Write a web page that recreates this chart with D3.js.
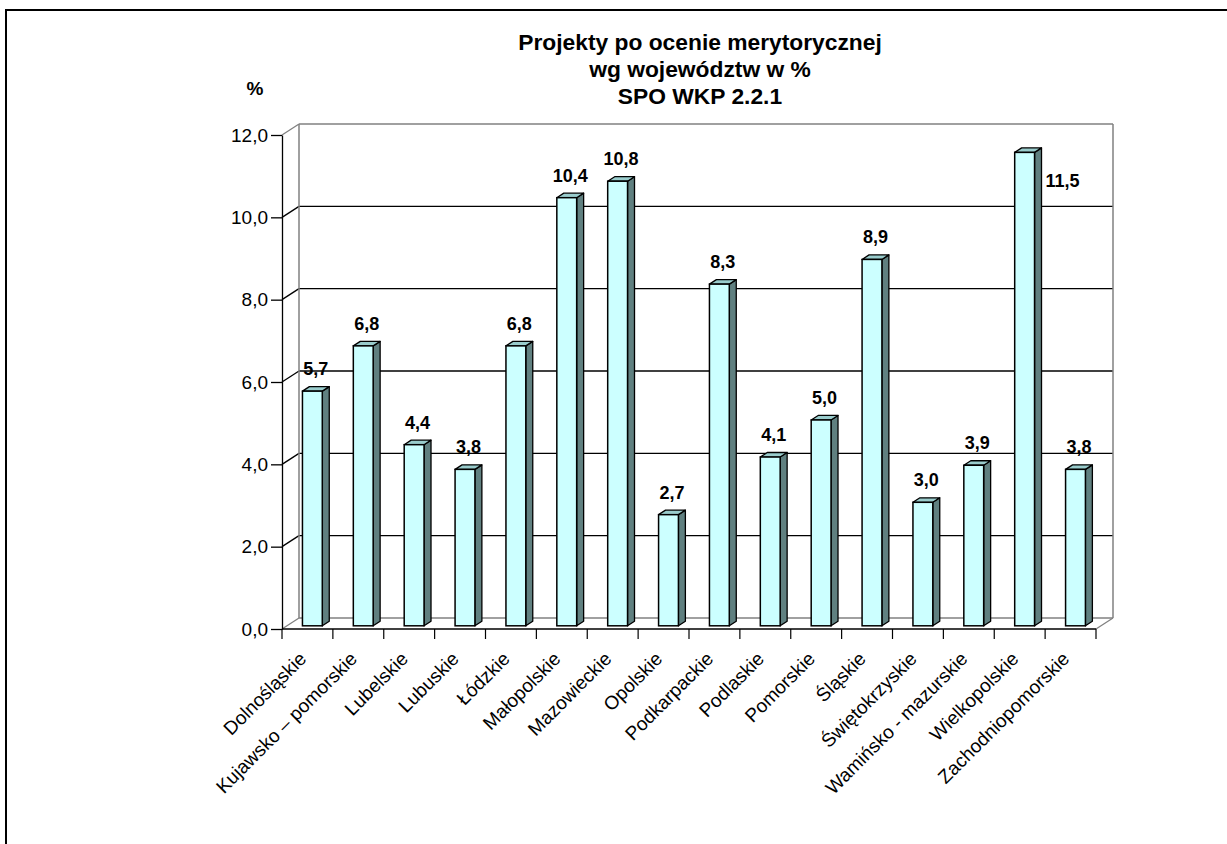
<!DOCTYPE html>
<html>
<head>
<meta charset="utf-8">
<script src="https://cdn.jsdelivr.net/npm/d3@7"></script>
<style>
  body { margin: 0; background: #fff; }
  text { font-family: "Liberation Sans", Arial, sans-serif; }
</style>
</head>
<body>
<svg id="chart" width="1227" height="844"></svg>
<script>
// Kategorie (województwa)
const categories = [
  "Dolnośląskie",
  "Kujawsko – pomorskie",
  "Lubelskie",
  "Lubuskie",
  "Łódzkie",
  "Małopolskie",
  "Mazowieckie",
  "Opolskie",
  "Podkarpackie",
  "Podlaskie",
  "Pomorskie",
  "Śląskie",
  "Świętokrzyskie",
  "Wamińsko - mazurskie",
  "Wielkopolskie",
  "Zachodniopomorskie",
];

// Udział projektów w %
const values = [5.7, 6.8, 4.4, 3.8, 6.8, 10.4, 10.8, 2.7, 8.3, 4.1, 5.0, 8.9, 3.0, 3.9, 11.5, 3.8];

const yTicks = [0, 2, 4, 6, 8, 10, 12];
const titleLines = ["Projekty po ocenie merytorycznej", "wg województw w %", "SPO WKP 2.2.1"];
const yAxisTitle = "%";

const svg = d3.select("#chart");

const plot = { left: 282, right: 1096, top: 135, bottom: 629 };
const depth = { dx: 17, dy: -11 };
const barZ = [0.29, 0.7];

const xScale = d3.scaleBand().domain(categories).range([plot.left, plot.right]);
const yScale = d3.scaleLinear().domain([0, 12]).range([plot.bottom, plot.top]);
const fmt = (v) => d3.format(".1f")(v).replace(".", ",");

// Ramka
svg
  .append("rect")
  .attr("x", 6)
  .attr("y", 10)
  .attr("width", 1400)
  .attr("height", 1000)
  .attr("fill", "none")
  .attr("stroke", "#000")
  .attr("stroke-width", 2);

// Tytuł
svg
  .append("g")
  .selectAll("text")
  .data(titleLines)
  .enter()
  .append("text")
  .attr("x", 700)
  .attr("y", (d, i) => 50 + i * 27)
  .attr("text-anchor", "middle")
  .attr("font-weight", "bold")
  .attr("font-size", 22.8)
  .text((d) => d);

svg
  .append("text")
  .attr("x", 255)
  .attr("y", 95)
  .attr("text-anchor", "middle")
  .attr("font-weight", "bold")
  .attr("font-size", 19)
  .text(yAxisTitle);

// Ściany i siatka
const walls = svg.append("g");
const edge = (t) => (t === 0 || t === 12 ? "#808080" : "#000");

walls
  .selectAll(".grid")
  .data(yTicks)
  .enter()
  .append("line")
  .attr("x1", plot.left + depth.dx)
  .attr("x2", plot.right + depth.dx)
  .attr("y1", (d) => yScale(d) + depth.dy)
  .attr("y2", (d) => yScale(d) + depth.dy)
  .attr("stroke", (d) => edge(d))
  .attr("stroke-width", 1.3);

walls
  .selectAll(".diag")
  .data(yTicks)
  .enter()
  .append("line")
  .attr("x1", plot.left)
  .attr("x2", plot.left + depth.dx)
  .attr("y1", (d) => yScale(d))
  .attr("y2", (d) => yScale(d) + depth.dy)
  .attr("stroke", (d) => edge(d))
  .attr("stroke-width", 1.3);

walls
  .selectAll(".wallEdge")
  .data([plot.left + depth.dx, plot.right + depth.dx])
  .enter()
  .append("line")
  .attr("x1", (d) => d)
  .attr("x2", (d) => d)
  .attr("y1", yScale(12) + depth.dy)
  .attr("y2", yScale(0) + depth.dy)
  .attr("stroke", "#808080")
  .attr("stroke-width", 1.5);

walls
  .append("line")
  .attr("x1", plot.right)
  .attr("x2", plot.right + depth.dx)
  .attr("y1", yScale(0))
  .attr("y2", yScale(0) + depth.dy)
  .attr("stroke", "#808080")
  .attr("stroke-width", 1.3);

// Oś Y
const yAxis = svg
  .append("g")
  .attr("transform", `translate(${plot.left},0)`)
  .call(d3.axisLeft(yScale).tickValues(yTicks).tickSize(11).tickSizeOuter(0).tickPadding(3).tickFormat(fmt));

yAxis.select(".domain").attr("stroke", "#000").attr("stroke-width", 1.3);
yAxis.selectAll(".tick line").attr("stroke", "#000").attr("stroke-width", 1.3);
yAxis
  .selectAll(".tick text")
  .attr("fill", "#000")
  .attr("font-size", 19)
  .attr("font-family", '"Liberation Sans", Arial, sans-serif');

// Oś X
const xAxis = svg.append("g");

xAxis
  .append("line")
  .attr("x1", plot.left)
  .attr("x2", plot.right)
  .attr("y1", yScale(0))
  .attr("y2", yScale(0))
  .attr("stroke", "#000")
  .attr("stroke-width", 1.3);

xAxis
  .selectAll(".xtick")
  .data(categories.map((c) => xScale(c)).concat([plot.right]))
  .enter()
  .append("line")
  .attr("x1", (d) => d)
  .attr("x2", (d) => d)
  .attr("y1", yScale(0))
  .attr("y2", yScale(0) + 10)
  .attr("stroke", "#000")
  .attr("stroke-width", 1.2);

xAxis
  .selectAll(".xlabel")
  .data(categories)
  .enter()
  .append("text")
  .attr("transform", (d) => `translate(${xScale(d) + xScale.bandwidth() / 2},${yScale(0) + 31}) rotate(-45)`)
  .attr("text-anchor", "end")
  .attr("font-size", 19)
  .text((d) => d);

// Słupki 3D
const bw = xScale.step() * 0.39;
const z0x = depth.dx * barZ[0];
const z0y = depth.dy * barZ[0];
const ddx = depth.dx * (barZ[1] - barZ[0]);
const ddy = depth.dy * (barZ[1] - barZ[0]);

const barData = categories.map((c, i) => {
  const cx = xScale(c) + xScale.bandwidth() / 2 + z0x;
  return {
    value: values[i],
    x: cx - bw / 2,
    yt: yScale(values[i]) + z0y,
    yb: yScale(0) + z0y,
  };
});

const bars = svg.append("g").selectAll(".bar").data(barData).enter().append("g").attr("class", "bar");

bars
  .append("polygon")
  .attr("points", (d) =>
    [
      [d.x + bw, d.yt],
      [d.x + bw + ddx, d.yt + ddy],
      [d.x + bw + ddx, d.yb + ddy],
      [d.x + bw, d.yb],
    ].join(" ")
  )
  .attr("fill", "#608080")
  .attr("stroke", "#000")
  .attr("stroke-width", 1.3)
  .attr("stroke-linejoin", "round");

bars
  .append("polygon")
  .attr("points", (d) =>
    [
      [d.x, d.yt],
      [d.x + ddx, d.yt + ddy],
      [d.x + bw + ddx, d.yt + ddy],
      [d.x + bw, d.yt],
    ].join(" ")
  )
  .attr("fill", "#99CCCC")
  .attr("stroke", "#000")
  .attr("stroke-width", 1.3)
  .attr("stroke-linejoin", "round");

bars
  .append("rect")
  .attr("x", (d) => d.x)
  .attr("y", (d) => d.yt)
  .attr("width", bw)
  .attr("height", (d) => d.yb - d.yt)
  .attr("fill", "#CCFFFF")
  .attr("stroke", "#000")
  .attr("stroke-width", 1.5);

// Etykiety wartości
const wallTop = yScale(12) + depth.dy;
bars
  .append("text")
  .each(function (d) {
    const t = d3.select(this);
    const baseline = d.yt - 16;
    if (baseline - 13 < wallTop + 5) {
      // za wysoko - etykieta obok słupka
      t.attr("x", d.x + bw + ddx + 4).attr("y", d.yt + 35).attr("text-anchor", "start");
    } else {
      t.attr("x", d.x + bw / 2 + ddx / 2).attr("y", baseline).attr("text-anchor", "middle");
    }
  })
  .attr("font-weight", "bold")
  .attr("font-size", 18)
  .text((d) => fmt(d.value));
</script>
</body>
</html>
